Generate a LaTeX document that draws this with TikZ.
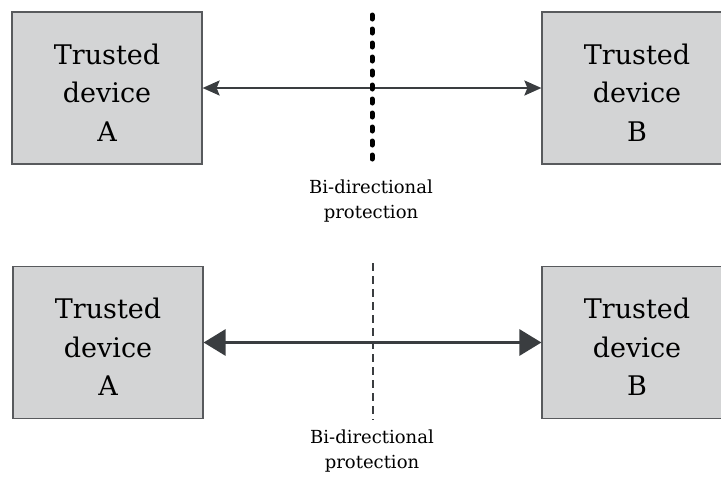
\documentclass[tikz,border=0pt]{standalone}
\usepackage{fontspec}
\setmainfont{DejaVu Serif}
\usetikzlibrary{arrows.meta}
\definecolor{boxgray}{HTML}{D3D4D5}
\definecolor{linegray}{HTML}{3A3D40}
\tikzset{
	device/.style={draw=linegray!85, line width=1.2pt, fill=boxgray, minimum width=190pt, minimum height=152pt, align=center, inner sep=0pt, text height=106pt, font=\fontsize{27}{38.5}\selectfont},
	caption/.style={align=center, font=\fontsize{18}{24.5}\selectfont},
}

\begin{document}
\begin{tikzpicture}[x=1pt,y=-1pt]
	\useasboundingbox (0,0) rectangle (721,480);
	\clip (0,0) rectangle (721,480);
	% upper pair, dotted divider
	\node[device] (ta) at (107,88) {Trusted\\device\\A};
	\node[device] (tb) at (637,88) {Trusted\\device\\B};
	\coordinate (tdtop) at (372,15);
	\coordinate (tdbot) at (372,161);
	\draw[linegray, line width=2.2pt, {Stealth[length=17pt,width=15pt,inset=3pt]}-{Stealth[length=17pt,width=15pt,inset=3pt]}] (ta) -- (tb);
	\draw[black, line width=5pt, line cap=round, dash pattern=on 4pt off 10pt] (tdtop) -- (tdbot);
	\node[caption] (tcap) at (371,201) {Bi-directional\\protection};
	% lower pair, dashed divider
	\node[device] (ba) at (108,342.5) {Trusted\\device\\A};
	\node[device] (bb) at (637,342.5) {Trusted\\device\\B};
	\coordinate (bdtop) at (373,263);
	\coordinate (bdbot) at (373,420);
	\draw[linegray, line width=3pt, {Triangle[length=22pt,width=26pt]}-{Triangle[length=22pt,width=26pt]}] (ba) -- (bb);
	\draw[linegray, line width=2pt, dash pattern=on 8pt off 5pt] (bdtop) -- (bdbot);
	\node[caption] (bcap) at (372,451) {Bi-directional\\protection};
\end{tikzpicture}
\end{document}
